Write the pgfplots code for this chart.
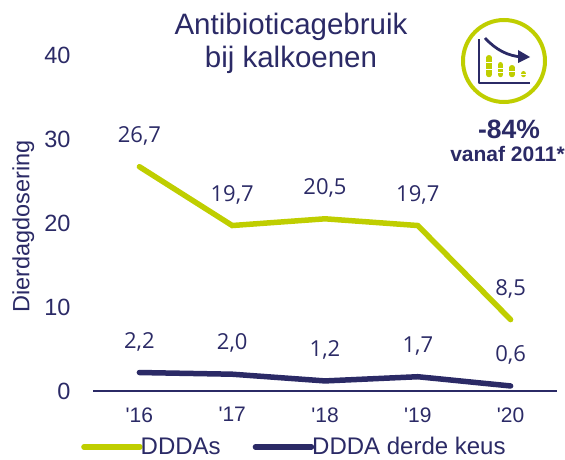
\documentclass[border=0pt]{standalone}
\usepackage{fontspec}
\setmainfont{Liberation Sans}
\newfontfamily\labelfont{Open Sans}
\usepackage{pgfplots}
\pgfplotsset{compat=1.18}
\definecolor{kipgreen}{HTML}{BFCE00}
\definecolor{kipnavy}{HTML}{2B2A66}
\begin{document}
\begin{tikzpicture}[x=1pt,y=1pt]
\useasboundingbox (0,0) rectangle (565,459);
\begin{axis}[
  at={(93pt,68pt)}, anchor=south west,
  scale only axis, width=464pt, height=336pt,
  xmin=-0.5, xmax=4.5, ymin=0, ymax=40,
  xtick={0,1,2,3,4},
  xticklabels={\textquotesingle 16,\textquotesingle 17,\textquotesingle 18,\textquotesingle 19,\textquotesingle 20},
  ytick={0,10,20,30,40},
  axis x line*=bottom, axis y line*=left,
  x axis line style={-, color=kipnavy, line width=1.5pt},
  y axis line style={draw=none},
  major tick length=0pt,
  tick style={draw=none},
  clip=false,
  /pgf/number format/assume math mode=true,
  xticklabel style={font=\fontsize{21}{21}\selectfont, text=kipnavy, yshift=-13pt},
  yticklabel style={font=\fontsize{23.5}{23.5}\selectfont, text=kipnavy, xshift=-19pt},
  ylabel={Dierdagdosering},
  ylabel style={font=\fontsize{23.5}{23.5}\selectfont, text=kipnavy, at={(axis description cs:-0.15,0.49)}, anchor=center},
  point meta=explicit symbolic,
  nodes near coords,
  nodes near coords style={font=\labelfont\fontsize{22}{22}\selectfont, text=kipnavy, anchor=center, yshift=31pt},
  legend columns=2,
  legend cell align=left,
  legend style={draw=none, fill=none, at={(-15pt,-69.5pt)}, anchor=south west, font=\fontsize{24}{24}\selectfont, text=kipnavy,
    /tikz/every odd column/.append style={column sep=-4pt},
    /tikz/every even column/.append style={column sep=30pt}},
  legend image code/.code={\draw[#1, line cap=round] (0pt,0pt) -- (56pt,0pt);},
]
\addplot[kipgreen, line width=5.5pt, line cap=round, line join=miter] coordinates {
  (0,26.7)[26,7] (1,19.7)[19,7] (2,20.5)[20,5] (3,19.7)[19,7] (4,8.5)[8,5]};
\addlegendentry{DDDAs}
\addplot[kipnavy, line width=5.5pt, line cap=round, line join=miter] coordinates {
  (0,2.2)[2,2] (1,2.0)[2,0] (2,1.2)[1,2] (3,1.7)[1,7] (4,0.6)[0,6]};
\addlegendentry{DDDA derde keus}
\end{axis}
\node[align=center, text=kipnavy, font=\fontsize{29.5}{33}\selectfont] at (291,415.5) {Antibioticagebruik\\bij kalkoenen};
\node[text=kipnavy, font=\bfseries\fontsize{26.5}{26.5}\selectfont] at (509,330) {-84\%};
\node[text=kipnavy, font=\bfseries\fontsize{21}{21}\selectfont] at (507.5,305) {vanaf 2011*};
% icon
\draw[kipgreen, line width=4pt] (504,398) circle (41);
\draw[kipnavy, line width=2.4pt, line join=round] (479,420) -- (479,376) -- (530,376);
\foreach \x/\t in {489/404,500.5/397,512/394,523.5/388}
  \draw[kipgreen, line width=5.5pt, line cap=round] (\x,384.5) -- (\x,\t-2.75);
\foreach \x/\y in {489/396,489/389,500.5/390,500.5/386,512/387,523.5/384}
  \draw[white, line width=1pt] (\x-4,\y) -- (\x+4,\y);
\draw[kipnavy, line width=2.8pt] (485,421) .. controls (496,409) and (508,403) .. (522,402);
\fill[kipnavy] (518,409) -- (530,402) -- (518,396) -- cycle;
\end{tikzpicture}
\end{document}
